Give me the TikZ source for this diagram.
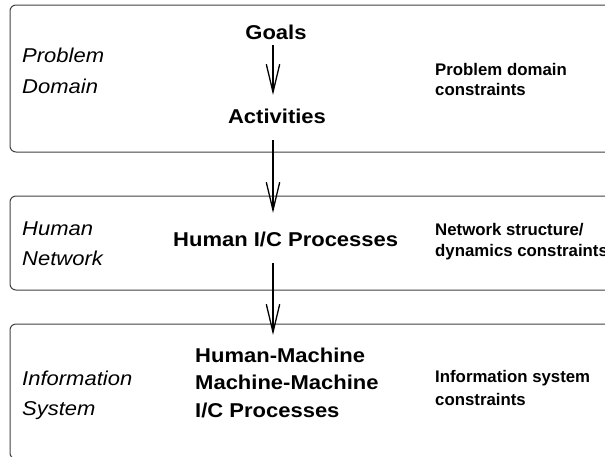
\documentclass[tikz,border=0pt]{standalone}
\usepackage{fontspec}
\setmainfont{Liberation Sans}
\newfontfamily\widesans[FakeStretch=1.1]{Liberation Sans}
\usetikzlibrary{arrows.meta,calc}
\tikzset{
  panel/.style={draw=black!75, line width=1pt, rounded corners=6pt},
  layer/.style={font=\widesans\itshape\fontsize{20}{24}\selectfont, anchor=base west, inner sep=0pt},
  main/.style={font=\widesans\bfseries\fontsize{20}{24}\selectfont, anchor=base, inner sep=0pt},
  mainl/.style={main, anchor=base west},
  cons/.style={font=\bfseries\fontsize{16.8}{20}\selectfont, anchor=base west, inner sep=0pt},
  flow/.style={line width=1.3pt, -{Straight Barb[length=28pt,width=13.4pt,line width=1.3pt]}}
}
\begin{document}
\begin{tikzpicture}[x=1pt,y=-1pt]
\useasboundingbox (0,0) rectangle (605,456);
% panels
\draw[panel] (10,5) rectangle (650,152);
\draw[panel] (10,196) rectangle (650,290);
\draw[panel] (10,324) rectangle (650,459);
% layer names
\node[layer] (pd1) at (22,62) {Problem};
\node[layer] (pd2) at (22,93) {Domain};
\node[layer] (hn1) at (22,235) {Human};
\node[layer] (hn2) at (22,265) {Network};
\node[layer] (is1) at (22,385) {Information};
\node[layer] (is2) at (22,415) {System};
% main chain
\coordinate (axis) at (273,0);
\node[main] (goals) at (276,39) {Goals};
\node[main] (act) at (277,123) {Activities};
\node[mainl] (hic) at (173,246) {Human I/C Processes};
\node[mainl] (hm1) at (195,362) {Human-Machine};
\node[mainl] (hm2) at (195,389) {Machine-Machine};
\node[mainl] (hm3) at (195,417) {I/C Processes};
% constraints
\node[cons] (c1a) at (435,75) {Problem domain};
\node[cons] (c1b) at (435,95) {constraints};
\node[cons] (c2a) at (435,235) {Network structure/};
\node[cons] (c2b) at (435,256) {dynamics constraints};
\node[cons] (c3a) at (435,382) {Information system};
\node[cons] (c3b) at (435,405) {constraints};
% arrows
\draw[flow] ($(goals.base -| axis)+(0,6)$) -- ($(act.base -| axis)+(0,-28)$);
\draw[flow] ($(act.base -| axis)+(0,17)$) -- ($(hic.base -| axis)+(0,-33)$);
\draw[flow] ($(hic.base -| axis)+(0,17)$) -- ($(hm1.base -| axis)+(0,-27)$);
\end{tikzpicture}
\end{document}
